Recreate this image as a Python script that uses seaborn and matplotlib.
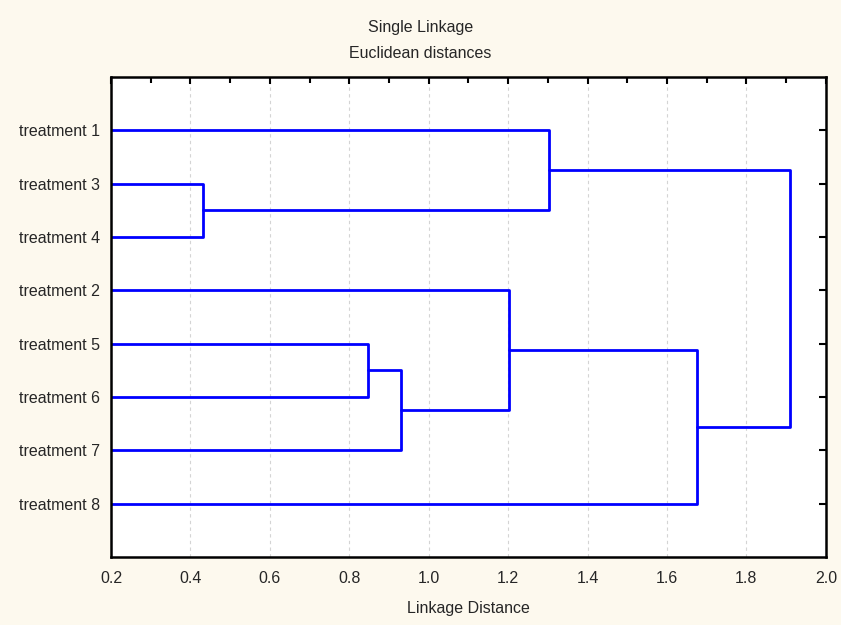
import numpy as np
import pandas as pd
import matplotlib
matplotlib.use("Agg")
import matplotlib.pyplot as plt
import seaborn as sns
from matplotlib.ticker import MultipleLocator

# Leaf order (top to bottom) and labels
leaf_labels = ["treatment 1", "treatment 3", "treatment 4", "treatment 2",
               "treatment 5", "treatment 6", "treatment 7", "treatment 8"]
# Merges: clusters are leaf indices (0-7) or merge ids (8+)
merge_left = [1, 4, 9, 3, 0, 11, 12]
merge_right = [2, 5, 6, 10, 8, 7, 13]
merge_dist = [0.432, 0.847, 0.930, 1.202, 1.303, 1.675, 1.909]

n = len(leaf_labels)
pos = {i: (i + 1.0, 0.0) for i in range(n)}
segs = []
for k, (a, b, d) in enumerate(zip(merge_left, merge_right, merge_dist)):
    ya, xa = pos[a]
    yb, xb = pos[b]
    sid = len(segs)
    segs.append(pd.DataFrame({"x": [xa, d, d, xb], "y": [ya, ya, yb, yb], "seg": sid}))
    pos[n + k] = ((ya + yb) / 2.0, d)
df = pd.concat(segs, ignore_index=True)

sns.set_style("white")
plt.rcParams["font.family"] = ["Liberation Sans", "DejaVu Sans"]

bg = "#FDF9EE"
fig = plt.figure(figsize=(8.41, 6.25), dpi=100, facecolor=bg)
ax = fig.add_axes([0.132, 0.109, 0.850, 0.768])
ax.set_facecolor("white")

sns.lineplot(data=df, x="x", y="y", units="seg", estimator=None, sort=False,
             color="#0000FF", linewidth=2.0, ax=ax, legend=False)

ax.set_xlim(0.2, 2.0)
ax.set_ylim(9, 0)
ax.set_yticks(np.arange(1, n + 1))
ax.set_yticklabels(leaf_labels, fontsize=11.5)
ax.xaxis.set_major_locator(MultipleLocator(0.2))
ax.xaxis.set_minor_locator(MultipleLocator(0.1))
ax.set_xticklabels([f"{v:.1f}" for v in ax.get_xticks()], fontsize=11.5)
ax.tick_params(axis="both", which="both", direction="in", top=True, right=True,
               labelright=False, labeltop=False, color="black", width=1.5)
ax.tick_params(axis="both", which="major", length=5, pad=10)
ax.tick_params(axis="y", which="major", pad=8)
ax.tick_params(axis="x", which="minor", length=4)
ax.grid(True, axis="x", which="major", linestyle=(0, (3, 3)), color="#D4D4D4", linewidth=0.8)
ax.set_axisbelow(True)
for s in ax.spines.values():
    s.set_color("black")
    s.set_linewidth(1.8)
ax.set_xlabel("Linkage Distance", fontsize=11.5, labelpad=11)
ax.set_ylabel("")
fig.text(0.5, 0.956, "Single Linkage", ha="center", va="center", fontsize=11.5)
fig.text(0.5, 0.915, "Euclidean distances", ha="center", va="center", fontsize=11.5)

fig.savefig("out.png", dpi=100, facecolor=bg)
